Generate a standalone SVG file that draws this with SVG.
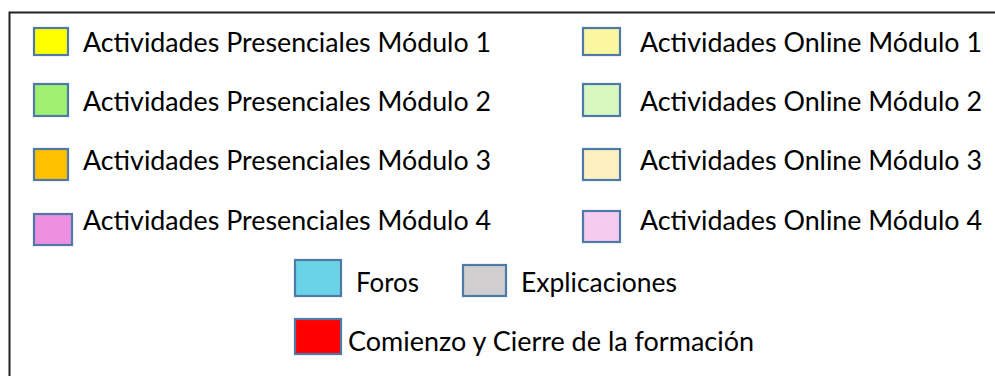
<svg xmlns="http://www.w3.org/2000/svg" width="995" height="376" viewBox="0 0 995 376">
<style>
.sw{stroke:#4F79A8;stroke-width:2.2}
.t{font-family:Lato,"Open Sans","Liberation Sans",sans-serif;font-size:27px;fill:#000}
</style>
<rect x="0" y="0" width="995" height="376" fill="#fff"/>
<path d="M9.5,376 V12.5 H995" fill="none" stroke="#222" stroke-width="2"/>
<g id="p1"><rect class="sw" x="34" y="28" width="34" height="27" fill="#FFFF00"/><text class="t" x="83" y="52" textLength="408" lengthAdjust="spacingAndGlyphs">Actividades Presenciales Módulo 1</text></g>
<g id="p2"><rect class="sw" x="34" y="84" width="34" height="32" fill="#A0F070"/><text class="t" x="83" y="111" textLength="408" lengthAdjust="spacingAndGlyphs">Actividades Presenciales Módulo 2</text></g>
<g id="p3"><rect class="sw" x="34" y="149" width="34" height="31" fill="#FFC000"/><text class="t" x="83" y="170" textLength="408" lengthAdjust="spacingAndGlyphs">Actividades Presenciales Módulo 3</text></g>
<g id="p4"><rect class="sw" x="34" y="214" width="38" height="31" fill="#EE90E2"/><text class="t" x="83" y="230" textLength="408" lengthAdjust="spacingAndGlyphs">Actividades Presenciales Módulo 4</text></g>
<g id="o1"><rect class="sw" x="583" y="28" width="37" height="27" fill="#FAF7A0"/><text class="t" x="640" y="52" textLength="342" lengthAdjust="spacingAndGlyphs">Actividades Online Módulo 1</text></g>
<g id="o2"><rect class="sw" x="583" y="84" width="37" height="32" fill="#D6F8C0"/><text class="t" x="640" y="111" textLength="342" lengthAdjust="spacingAndGlyphs">Actividades Online Módulo 2</text></g>
<g id="o3"><rect class="sw" x="583" y="149" width="37" height="31" fill="#FFF0C2"/><text class="t" x="640" y="170" textLength="342" lengthAdjust="spacingAndGlyphs">Actividades Online Módulo 3</text></g>
<g id="o4"><rect class="sw" x="583" y="211" width="37" height="31" fill="#F5CCF0"/><text class="t" x="640" y="230" textLength="342" lengthAdjust="spacingAndGlyphs">Actividades Online Módulo 4</text></g>
<g id="foros"><rect class="sw" x="295" y="260" width="46" height="36" fill="#6AD3E6"/><text class="t" x="356" y="292" textLength="63" lengthAdjust="spacingAndGlyphs">Foros</text></g>
<g id="explicaciones"><rect class="sw" x="463" y="265" width="43" height="31" fill="#D0CECE"/><text class="t" x="521" y="292" textLength="156" lengthAdjust="spacingAndGlyphs">Explicaciones</text></g>
<g id="comienzo"><rect class="sw" x="295" y="319" width="46" height="35" fill="#FF0000"/><text class="t" x="348" y="351" textLength="406" lengthAdjust="spacingAndGlyphs">Comienzo y Cierre de la formación</text></g>
<g id="connectors"></g>
</svg>
